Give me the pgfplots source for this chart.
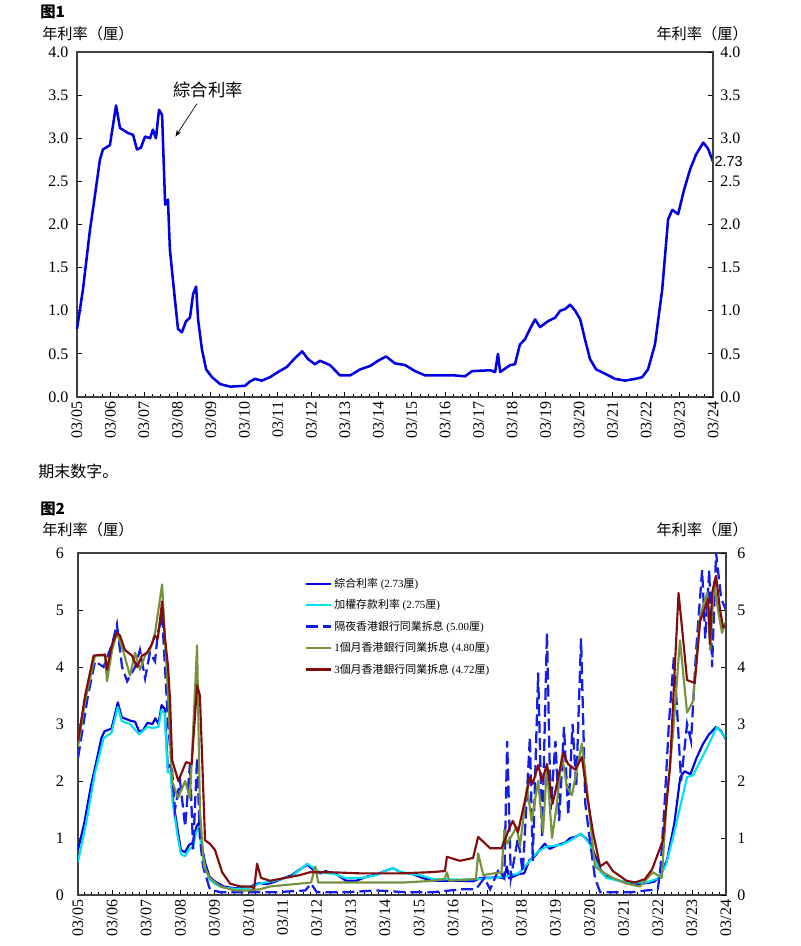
\documentclass[border=0pt]{standalone}
\usepackage{fontspec}
\setmainfont{Liberation Serif}
\newfontfamily\cjk{Noto Sans CJK SC}
\newfontfamily\sans{Liberation Sans}
\usepackage{pgfplots}
\usepackage{pgfplotstable}
\usetikzlibrary{arrows.meta}
\pgfplotsset{compat=1.18}
\definecolor{comp}{RGB}{0,0,230}
\definecolor{dep}{RGB}{0,225,240}
\definecolor{onb}{RGB}{20,30,230}
\definecolor{oliv}{RGB}{118,146,60}
\definecolor{dred}{RGB}{128,12,12}

\pgfplotstableread{
m v
0 0.79
2.15 1.25
4.66 1.94
6.45 2.34
8.2 2.75
9.3 2.87
11.8 2.92
14.0 3.38
15.4 3.12
18.3 3.06
20.1 3.04
21.5 2.87
22.9 2.89
24.4 3.02
26.2 3.00
27.2 3.10
28.3 3.00
29.4 3.33
30.5 3.27
31.6 2.23
32.6 2.29
33.3 1.71
35.1 1.13
36.2 0.79
37.6 0.75
39.1 0.88
40.5 0.92
41.6 1.19
42.7 1.28
43.4 0.90
44.8 0.55
46.3 0.32
48.4 0.23
51.3 0.15
54.9 0.12
60.2 0.13
62.0 0.18
63.8 0.21
66.3 0.19
69.2 0.23
72.1 0.29
75.3 0.35
77.8 0.44
80.7 0.53
82.8 0.44
85.3 0.38
87.1 0.42
90.7 0.37
94.3 0.25
97.9 0.25
101.5 0.32
105.1 0.36
107.9 0.42
110.8 0.47
114.0 0.39
117.6 0.37
121.2 0.30
124.8 0.25
130.2 0.25
135.5 0.25
139.1 0.24
141.6 0.30
148.1 0.31
149.9 0.29
150.9 0.50
151.7 0.29
155.3 0.37
157.0 0.38
158.8 0.61
160.6 0.67
162.4 0.79
164.2 0.90
166.0 0.81
168.9 0.88
171.4 0.92
173.2 1.00
175.0 1.02
176.8 1.07
178.6 1.00
180.4 0.90
182.1 0.67
183.9 0.44
186.1 0.32
189.3 0.27
192.9 0.21
196.5 0.19
200.1 0.21
202.6 0.23
204.7 0.32
207.2 0.61
209.8 1.25
211.9 2.06
213.4 2.17
215.5 2.12
217.6 2.40
219.8 2.64
221.9 2.81
224.5 2.95
226.2 2.88
228 2.73
}\compdata

\pgfplotstableread{
m v
0 0.58
3 1.30
6 2.15
9 2.75
11.8 2.85
14.0 3.30
15.4 3.05
18.3 3.00
21.5 2.82
24.4 2.95
26.2 2.93
28.3 2.95
29.4 3.25
30.5 3.18
31.6 2.15
32.6 2.15
33.3 1.62
35.1 1.02
36.2 0.72
37.6 0.68
39.1 0.80
40.5 0.85
41.6 1.10
42.7 1.20
43.4 0.82
44.8 0.47
46.3 0.27
48.4 0.19
51.3 0.13
54.9 0.11
60.2 0.12
63.8 0.20
69.2 0.25
75.3 0.33
80.7 0.55
85.0 0.40
90.0 0.37
94.0 0.30
100.0 0.30
105.0 0.35
108.0 0.42
110.8 0.47
114.0 0.40
120.0 0.35
125.0 0.28
135.0 0.27
141.0 0.28
150.0 0.32
155.0 0.38
159.0 0.60
162.0 0.77
165.0 0.85
170.0 0.88
173.0 0.95
177.0 1.08
180.0 0.90
182.0 0.60
184.0 0.40
186.0 0.30
190.0 0.25
195.0 0.22
200.0 0.22
204.7 0.30
207.0 0.55
209.3 1.00
214.3 2.07
216.4 2.10
221.2 2.57
224.8 2.95
228 2.75
}\depdata

\pgfplotstableread{
m v
0 2.40
3.5 3.50
6 4.10
9 4.00
12 4.40
13.7 4.75
15.5 4.00
17.3 3.75
20.1 4.00
21.8 4.30
23.6 3.80
25.3 4.25
27.1 4.10
28.1 4.60
29.6 4.90
30.6 4.00
31.7 3.00
33.1 2.20
34.1 1.50
35.9 2.00
37.7 1.20
39.4 2.30
40.5 0.80
41.9 2.40
42.9 1.00
44.0 0.50
46.4 0.10
50 0.05
60 0.05
70 0.05
80 0.08
82 0.20
84 0.05
95 0.05
105 0.08
115 0.05
125 0.05
135 0.10
140 0.10
143 0.30
145 0.10
148 0.45
150 0.30
151 2.70
152.3 0.30
154.8 1.00
156.5 0.40
159 2.77
160 0.60
161.9 3.90
163.3 1.00
165 4.60
166.3 1.50
168 2.70
169.3 1.30
171 2.95
172.5 1.40
174 3.00
175.3 1.90
177 4.50
178.5 1.60
180 1.00
181.9 0.30
183.7 0.05
195 0.05
200 0.08
204 0.10
205 0.50
206.5 1.70
207.9 3.00
209.7 4.20
212.2 2.00
214.3 3.00
215.7 2.70
217.5 4.30
219.6 5.70
220.7 4.50
222.1 5.70
223.1 4.00
224.5 6.00
226.3 5.20
228 5.00
}\ondata

\pgfplotstableread{
m v
0 2.60
2.5 3.40
6 4.20
9.5 4.20
10.2 3.75
12 4.30
13.7 4.60
15.8 4.30
18.3 3.85
20.1 4.25
21.8 3.95
23.6 4.20
25.3 4.30
27.1 4.60
29.6 5.45
30.6 4.50
31.7 3.50
33.1 2.00
35.2 1.70
37.7 2.00
39.4 1.70
41.9 4.38
42.9 1.50
44.3 0.50
46.4 0.30
50 0.15
55.2 0.08
60 0.08
64 0.10
67.6 0.15
78 0.20
82 0.22
83.5 0.50
84.5 0.22
100 0.22
115 0.22
125 0.25
129 0.28
129.8 0.40
130.6 0.25
140 0.28
140.8 0.73
142.6 0.35
149 0.40
150 1.14
151 0.90
154.4 1.20
155.5 0.85
158 1.90
159.6 1.30
161.9 2.00
163.6 1.10
165 2.25
166.8 1.00
168.5 1.60
170.3 2.45
172 1.90
173.8 1.75
177.3 2.66
179 1.90
181.9 0.50
184.7 0.40
188.2 0.30
193 0.20
197.7 0.15
202.3 0.40
205.4 0.30
207.2 1.70
209.3 2.80
211.8 4.47
214.3 3.20
216.4 3.40
218.9 4.90
221.4 5.30
222.4 4.30
223.8 5.50
225.2 5.00
226.6 4.60
228 4.80
}\onemdata

\pgfplotstableread{
m v
0 2.70
2.5 3.50
5.5 4.20
9.5 4.22
10.2 3.95
12 4.40
13.7 4.60
14.8 4.55
16.5 4.30
19 4.20
20.8 4.00
22.5 4.20
24.3 4.25
26 4.40
27.1 4.55
28.1 4.50
29.6 5.15
30.6 4.50
31.7 4.00
32.4 3.40
33.1 2.37
35.3 2.00
38.0 2.33
40.0 2.30
41.9 3.68
42.9 3.50
44.7 0.96
46.4 0.90
48.2 0.79
50.7 0.40
53.5 0.20
57.0 0.15
60.5 0.15
62.0 0.12
63 0.55
64.4 0.30
67.6 0.25
72.8 0.30
78.1 0.35
81.6 0.40
88.7 0.40
99.2 0.38
113.3 0.38
123.9 0.40
129.1 0.42
129.8 0.67
134.4 0.60
139 0.65
140.8 1.02
145 0.82
149 0.82
152 1.20
153 1.30
154.8 1.10
157.3 1.67
159 2.07
160 1.95
161.9 2.28
163.3 2.00
165 2.30
167 1.60
169 2.07
170.7 2.49
172.4 2.30
174.9 2.20
177.3 2.42
179 1.79
181.2 1.10
183.7 0.50
186 0.58
188.2 0.42
193 0.25
196 0.22
199.5 0.28
202 0.45
205.8 0.96
208.3 2.25
210 4.00
211.3 5.30
212.5 4.70
214.3 3.77
217 3.72
218.9 4.80
221.7 5.20
222.4 4.40
223.1 5.30
224.5 5.60
225.9 5.00
227 4.70
228 4.72
}\threemdata

\pgfplotsset{
  base/.style={
    scale only axis,
    xmin=0, xmax=228,
    xtick={0,12,...,228},
    xticklabels={03/05,03/06,03/07,03/08,03/09,03/10,03/11,03/12,03/13,03/14,03/15,03/16,03/17,03/18,03/19,03/20,03/21,03/22,03/23,03/24},
    xticklabel style={rotate=90, anchor=east},
    tick align=inside,
    xtick pos=bottom,
    major tick length=3.75pt,
    minor tick length=2.25pt,
    tick style={black, line width=0.6pt},
    axis line style={black!75, line width=0.9pt},
    /pgf/number format/assume math mode=true,
    ticklabel style={font=\fontsize{12}{12}\selectfont},
    yticklabel style={xshift=-3pt},
  },
  rightax/.style={
    scale only axis,
    xmin=0, xmax=228,
    axis x line=none,
    axis y line*=right,
    ytick pos=right,
    yticklabel pos=right,
    tick align=inside,
    major tick length=3.75pt,
    tick style={black, line width=0.6pt},
    axis line style={black!75, line width=0.9pt},
    /pgf/number format/assume math mode=true,
    ticklabel style={font=\fontsize{12}{12}\selectfont},
    yticklabel style={xshift=2pt},
  },
}

\begin{document}
\begin{tikzpicture}
\path[use as bounding box] (0pt,0pt) rectangle (600pt,-709.5pt);

\begin{scope}[x=0.75pt,y=-0.75pt]
\node[anchor=west,inner sep=0pt] at (40,12) {\cjk\bfseries\fontsize{11.5}{12}\selectfont 图1};
\node[anchor=west,inner sep=0pt] at (42,34) {\cjk\fontsize{11.4}{12}\selectfont 年利率（厘）};
\node[anchor=east,inner sep=0pt] at (748,34) {\cjk\fontsize{11.4}{12}\selectfont 年利率（厘）};
\node[anchor=west,inner sep=0pt] at (38,471) {\cjk\fontsize{12}{12}\selectfont 期末数字。};
\node[anchor=west,inner sep=0pt] at (40,509) {\cjk\bfseries\fontsize{11.5}{12}\selectfont 图2};
\node[anchor=west,inner sep=0pt] at (42,530) {\cjk\fontsize{11.4}{12}\selectfont 年利率（厘）};
\node[anchor=east,inner sep=0pt] at (748,530) {\cjk\fontsize{11.4}{12}\selectfont 年利率（厘）};
\end{scope}

% ---------- Figure 1 ----------
\begin{axis}[base, at={(57.75pt,-297.75pt)}, anchor=south west,
  width=477pt, height=258.75pt,
  ymin=0, ymax=4, ytick={0,0.5,...,4}, ytick pos=left,
  minor x tick num=3,
  yticklabel style={/pgf/number format/.cd, fixed, fixed zerofill, precision=1},
  clip=false]
\addplot[comp, line width=1.9pt, line join=round] table[x=m,y=v] {\compdata};
\node[anchor=center] at (axis cs:47,3.56) {\cjk\fontsize{13}{13}\selectfont 綜合利率};
\draw[-{Stealth[length=5pt]}, line width=0.5pt] (axis cs:43,3.40) -- (axis cs:35.3,3.02);
\node[anchor=west, inner sep=1pt] at (axis cs:228,2.73) {\sans\fontsize{10.8}{11}\selectfont 2.73};
\end{axis}
\begin{axis}[rightax, at={(57.75pt,-297.75pt)}, anchor=south west,
  width=477pt, height=258.75pt,
  ymin=0, ymax=4, ytick={0,0.5,...,4},
  yticklabel style={/pgf/number format/.cd, fixed, fixed zerofill, precision=1}]
\end{axis}

% ---------- Figure 2 ----------
\begin{axis}[base, at={(58.5pt,-671.25pt)}, anchor=south west,
  width=486pt, height=256.5pt,
  ymin=0, ymax=6, ytick={0,1,...,6}, ytick pos=left,
  minor x tick num=4,
  yticklabel style={xshift=-4pt},
  legend style={at={(0.350,0.933)}, anchor=north west, draw=none, fill=none,
    font=\fontsize{8.2}{9}\selectfont, row sep=4.6pt, inner sep=0pt,
    nodes={inner sep=1.5pt, anchor=west}},
  legend cell align=left,
  legend image code/.code={\draw[#1] (0pt,0pt) -- (18.75pt,0pt);}]
\addplot[comp, line width=1.6pt, line join=round] table[x=m,y=v] {\compdata};
\addlegendentry{{\cjk 綜合利率} (2.73{\cjk 厘})}
\addplot[dep, line width=1.6pt, line join=round] table[x=m,y=v] {\depdata};
\addlegendentry{{\cjk 加權存款利率} (2.75{\cjk 厘})}
\addplot[onb, line width=1.7pt, dash pattern=on 9pt off 3.75pt] table[x=m,y=v] {\ondata};
\addlegendentry{{\cjk 隔夜香港銀行同業拆息} (5.00{\cjk 厘})}
\addplot[oliv, line width=1.6pt, line join=round] table[x=m,y=v] {\onemdata};
\addlegendentry{1{\cjk 個月香港銀行同業拆息} (4.80{\cjk 厘})}
\addplot[dred, line width=1.6pt, line join=round] table[x=m,y=v] {\threemdata};
\addlegendentry{3{\cjk 個月香港銀行同業拆息} (4.72{\cjk 厘})}
\end{axis}
\begin{axis}[rightax, at={(58.5pt,-671.25pt)}, anchor=south west,
  width=486pt, height=256.5pt,
  ymin=0, ymax=6, ytick={0,1,...,6}, yticklabel style={xshift=3pt}]
\end{axis}
\end{tikzpicture}
\end{document}
